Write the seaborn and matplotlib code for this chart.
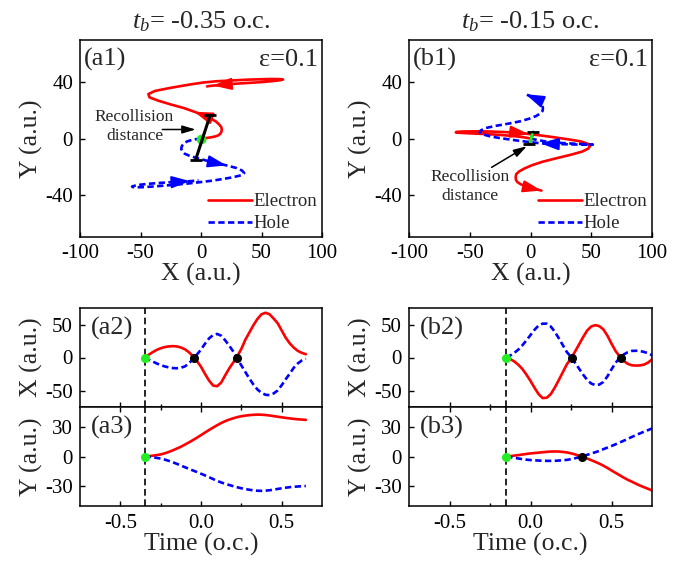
import numpy as np
import matplotlib
matplotlib.use("Agg")
import matplotlib.pyplot as plt
import seaborn as sns
from matplotlib.ticker import FixedLocator, FormatStrFormatter

# time grids (o.c.)
t_a = [-0.350, -0.325, -0.300, -0.275, -0.250, -0.225, -0.200, -0.175, -0.150, -0.125,
       -0.100, -0.075, -0.050, -0.025, 0.000, 0.025, 0.050, 0.075, 0.100, 0.125,
       0.150, 0.175, 0.200, 0.225, 0.250, 0.275, 0.300, 0.325, 0.350, 0.375,
       0.400, 0.425, 0.450, 0.475, 0.500, 0.525, 0.550, 0.575, 0.600, 0.625, 0.650]
t_b = [-0.150, -0.125, -0.100, -0.075, -0.050, -0.025, 0.000, 0.025, 0.050, 0.075,
       0.100, 0.125, 0.150, 0.175, 0.200, 0.225, 0.250, 0.275, 0.300, 0.325,
       0.350, 0.375, 0.400, 0.425, 0.450, 0.475, 0.500, 0.525, 0.550, 0.575,
       0.600, 0.625, 0.650, 0.675, 0.700, 0.725, 0.750, 0.775, 0.800]

# case a, t_b = -0.35
ex_a = [0, 4, 8, 11.5, 14, 15.8, 16.8, 17.2, 16.8, 15.2, 12.5, 8, 2, -5.5, -14, -25, -35,
        -42.5, -43.5, -38, -27, -16.5, -7.5, 2, 13, 27, 38, 49, 58.5, 65.5, 67.8, 65.5, 59,
        52, 41, 30, 21.5, 15, 10, 7, 5]
ey_a = [0, 0.3, 0.8, 1.4, 2.1, 3.2, 4.6, 6.2, 8, 9.8, 12, 14.2, 16.6, 19, 21.6, 24.2, 26.8,
        29.2, 31.6, 33.8, 35.7, 37.3, 38.6, 39.8, 40.7, 41.3, 41.8, 42.1, 42.3, 42.2, 41.9,
        41.4, 40.8, 40.2, 39.6, 39, 38.5, 38, 37.6, 37.3, 37]
hx_a = [0, -3, -6, -9, -11.5, -13.5, -15, -16, -16.3, -15.5, -13.5, -9, -2.5, 4.5, 12, 21,
        29, 34, 35.7, 33, 26, 18, 9, -1.5, -12, -22, -32, -41, -48.5, -53.5, -56.5, -57,
        -54.5, -50, -42, -33, -24.5, -15.5, -9, -4.5, -2]
hy_a = [0, -0.3, -0.8, -1.4, -2.1, -3.1, -4.4, -5.8, -7.4, -9.1, -10.8, -12.5, -14.1, -15.7,
        -17.4, -19.1, -20.9, -22.8, -24.6, -26.2, -27.6, -28.8, -30, -31.1, -32.1, -32.9,
        -33.6, -34.2, -34.6, -34.7, -34.5, -34.1, -33.5, -32.8, -32.1, -31.5, -31, -30.6,
        -30.3, -30, -29.8]

# case b, t_b = -0.15
ex_b = [0, -2.5, -6, -11, -17.5, -26, -35.5, -46, -55.5, -61.5, -61, -55.5, -45.5, -34, -22,
        -10, -1.5, 9, 20, 31, 41, 47, 49, 47.5, 42.5, 33, 21, 10, 1.5, -5, -9.5, -11.8, -12.2,
        -12, -10.8, -7.8, -3, 3, 9]
ey_b = [0, 0.4, 0.9, 1.4, 2, 2.6, 3.1, 3.5, 3.9, 4.3, 4.7, 5, 5.1, 5, 4.6, 4.1, 3.2, 2.1, 0.8,
        -0.6, -2, -3.7, -5.4, -7.2, -9.3, -11.6, -14.1, -16.5, -18.9, -21.3, -23.5, -25.4,
        -27.4, -29.3, -31, -32.6, -34.3, -35.8, -37]
hx_b = [0, 3, 7, 12, 18.5, 26, 34, 42, 48.5, 51.3, 51.3, 47, 39, 29, 18.5, 8, 1, -8, -17, -26,
        -34, -39.5, -41.8, -41, -37, -28.5, -18, -8, -1, 4.5, 8, 10, 10.2, 9.8, 8.5, 6.5, 3.5,
        0, -4]
hy_b = [0, -0.6, -1.3, -2, -2.7, -3.2, -3.6, -3.9, -4.1, -4.3, -4.4, -4.4, -4.3, -4.1, -3.8,
        -3.4, -2.7, -1.8, -0.7, 0.4, 1.7, 3, 4.3, 5.7, 7.4, 9, 10.6, 12.3, 14.1, 15.9, 17.8,
        19.7, 21.5, 23.3, 25, 26.6, 28.3, 30, 31.5]

# x = 0 / y = 0 crossing times (black dots)
cross_x_a = [-0.042, 0.221]
cross_x_b = [0.254, 0.556]
cross_y_a = []
cross_y_b = [0.318]

# recollision distance segments (electron end, hole end)
recoll_a = [(7.5, 16.4), (-4.4, -15.0)]
recoll_b = [(2.3, 4.5), (-1.0, -3.8)]
green_b = [(1.5, 2.8), (-0.3, -2.2)]

# sample index where direction arrows sit
arr_e_a, arr_h_a = [12, 37], [14, 37]
arr_e_b, arr_h_b = [15, 37], [14, 37]

sns.set_theme(style="ticks")
plt.rcParams.update({
    "font.family": ["Liberation Serif", "DejaVu Serif"],
    "mathtext.fontset": "custom",
    "mathtext.rm": "Liberation Serif",
    "mathtext.it": "Liberation Serif:italic",
    "axes.unicode_minus": False,
    "axes.linewidth": 1.1,
    "axes.edgecolor": "black",
    "xtick.direction": "in",
    "ytick.direction": "in",
    "xtick.color": "black",
    "ytick.color": "black",
    "xtick.major.size": 3.5,
    "ytick.major.size": 3.5,
    "xtick.minor.size": 2.2,
    "xtick.major.width": 1.0,
    "ytick.major.width": 1.0,
    "xtick.labelsize": 15,
    "ytick.labelsize": 15,
    "axes.labelsize": 18.5,
})

W, H = 695, 562
fig = plt.figure(figsize=(W / 100, H / 100), dpi=100)


def box(l, t, r, b):
    return [l / W, 1 - b / H, (r - l) / W, (b - t) / H]


RED, BLUE = "#ff0000", "#0000ff"
LW = 1.9


def dashed(line):
    line.set_dashes([2.4, 1.3])


def add_arrows(ax, xs, ys, idx, color):
    for i in idx:
        ax.annotate("", xy=(xs[i + 1], ys[i + 1]), xytext=(xs[i], ys[i]),
                    arrowprops=dict(arrowstyle="-|>,head_length=0.55,head_width=0.18",
                                    color=color, lw=1.5, shrinkA=0, shrinkB=0,
                                    mutation_scale=20))


def traj_panel(ax, ex, ey, hx, hy, arr_e, arr_h, recoll, tag):
    sns.lineplot(x=ex, y=ey, sort=False, estimator=None, color=RED, lw=LW, ax=ax,
                 label="Electron")
    sns.lineplot(x=hx, y=hy, sort=False, estimator=None, color=BLUE, lw=LW, ax=ax,
                 label="Hole")
    dashed(ax.lines[-1])
    add_arrows(ax, ex, ey, arr_e, RED)
    add_arrows(ax, hx, hy, arr_h, BLUE)
    (x1, y1), (x2, y2) = recoll
    ax.plot([x1, x2], [y1, y2], color="black", lw=2.2, zorder=5)
    ax.plot([x1, x2], [y1, y2], ls="none", marker="_", ms=8, mew=2, color="black", zorder=5)
    ax.set_xlim(-100, 100)
    ax.set_ylim(-70, 70)
    ax.xaxis.set_major_locator(FixedLocator([-100, -50, 0, 50, 100]))
    ax.yaxis.set_major_locator(FixedLocator([-40, 0, 40]))
    ax.set_xlabel("X (a.u.)", labelpad=0)
    ax.set_ylabel("Y (a.u.)", labelpad=2)
    ax.tick_params(pad=5)
    ax.text(0.018, 0.9, tag, transform=ax.transAxes, fontsize=19, va="center", ha="left")
    ax.text(0.982, 0.9, "ε=0.1", transform=ax.transAxes, fontsize=19, va="center", ha="right")
    ax.legend(loc="lower right", frameon=False, fontsize=13.5, handlelength=2.35,
              handletextpad=0.1, borderaxespad=0.05, borderpad=0.2, labelspacing=0.25)


def time_panel(ax, t, e, h, tb, crosses, ylim, yticks, ylabel, tag, bottom):
    sns.lineplot(x=t, y=e, color=RED, lw=LW, ax=ax, estimator=None)
    sns.lineplot(x=t, y=h, color=BLUE, lw=LW, ax=ax, estimator=None)
    dashed(ax.lines[-1])
    ax.axvline(tb, color="black", lw=1.2, dashes=(4, 2.2), zorder=1)
    ax.plot([tb], [0], "o", color="#22ee22", ms=5.5, zorder=6)
    if crosses:
        ax.plot(crosses, [0] * len(crosses), "o", color="black", ms=5.5, zorder=6)
    ax.set_xlim(-0.75, 0.75)
    ax.set_ylim(*ylim)
    ax.xaxis.set_major_locator(FixedLocator([-0.5, 0.0, 0.5]))
    ax.xaxis.set_minor_locator(FixedLocator([-0.25, 0.25]))
    ax.xaxis.set_major_formatter(FormatStrFormatter("%.1f"))
    ax.yaxis.set_major_locator(FixedLocator(yticks))
    ax.set_ylabel(ylabel, labelpad=2)
    ax.tick_params(axis="x", which="both", pad=6)
    if bottom:
        ax.tick_params(axis="x", which="both", top=True)
        ax.set_xlabel("Time (o.c.)", labelpad=0)
    else:
        ax.tick_params(axis="x", labelbottom=False)
    ax.tick_params(axis="y", pad=5)
    ax.text(0.045, 0.79, tag, transform=ax.transAxes, fontsize=19, va="center", ha="left")


panels = [
    (80, 322, t_a, ex_a, ey_a, hx_a, hy_a, arr_e_a, arr_h_a, recoll_a, -0.35, cross_x_a,
     cross_y_a, "a"),
    (409, 652, t_b, ex_b, ey_b, hx_b, hy_b, arr_e_b, arr_h_b, recoll_b, -0.15, cross_x_b,
     cross_y_b, "b"),
]

for (l, r, t, ex, ey, hx, hy, ae, ah, rc, tb, cx, cy, k) in panels:
    ax1 = fig.add_axes(box(l, 40, r, 237))
    traj_panel(ax1, ex, ey, hx, hy, ae, ah, rc, f"({k}1)")
    ax2 = fig.add_axes(box(l, 308, r, 407))
    ax3 = fig.add_axes(box(l, 407, r, 506))
    time_panel(ax2, t, ex, hx, tb, cx, (-75, 75), [-50, 0, 50], "X (a.u.)", f"({k}2)", False)
    time_panel(ax3, t, ey, hy, tb, cy, (-50, 50), [-30, 0, 30], "Y (a.u.)", f"({k}3)", True)
    fig.text((l + r) / 2 / W, 1 - 22 / H, rf"$t_b$= {tb:.2f} o.c.", ha="center",
             va="center", fontsize=19)
    if k == "a":
        ax1.plot([0], [0], "o", color="#22ee22", ms=6, zorder=4)
        ax1.annotate("", xy=(-4.4, 6.4), xytext=(-32, 6.4),
                     arrowprops=dict(arrowstyle="-|>,head_length=0.5,head_width=0.15",
                                     color="black", lw=1.1, mutation_scale=16,
                                     shrinkA=0, shrinkB=0))
        ax1.text(-55, 8.6, "Recollision\ndistance", ha="center", va="center",
                 fontsize=12.5, linespacing=1.25)
    else:
        (gx1, gy1), (gx2, gy2) = green_b
        ax1.plot([gx1, gx2], [gy1, gy2], color="#22ee22", lw=2.2, zorder=6)
        ax1.annotate("", xy=(-3, -5.5), xytext=(-32, -20.5),
                     arrowprops=dict(arrowstyle="-|>,head_length=0.5,head_width=0.15",
                                     color="black", lw=1.1, mutation_scale=16,
                                     shrinkA=0, shrinkB=0))
        ax1.text(-50, -34, "Recollision\ndistance", ha="center", va="center",
                 fontsize=12.5, linespacing=1.25)

fig.savefig("out.png", dpi=100)
